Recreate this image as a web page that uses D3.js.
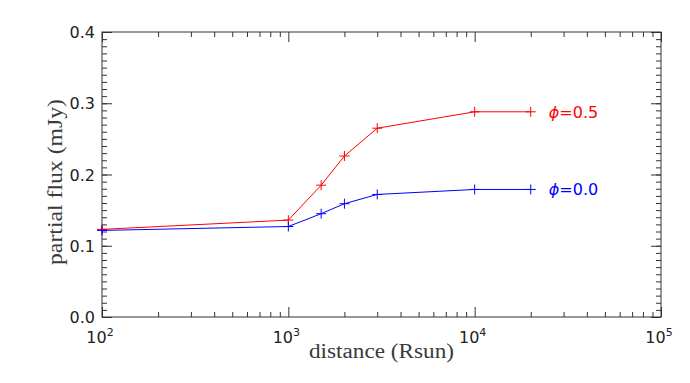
<!DOCTYPE html>
<html>
<head>
<meta charset="utf-8">
<script src="https://cdn.jsdelivr.net/npm/d3@7"></script>
<style>
  body { margin: 0; background: #fff; }
  svg { display: block; }
  .tick-label { font-family: 'DejaVu Sans', sans-serif; font-size: 16px; fill: #222; }
  .title { font-family: 'Liberation Serif', serif; font-size: 20px; fill: #3a3a3a; }
  .domain { display: none; }
  .axis line { stroke: #333; }
</style>
</head>
<body>
<script>
const w = 690;
const h = 383;
const plotLeft = 102;
const plotRight = 661;
const plotTop = 32;
const plotBottom = 317;

// distance (Rsun) and partial flux (mJy)
const distances = [100, 1000, 1500, 2000, 3000, 10000, 20000];
const fluxPhi05 = [0.123, 0.136, 0.185, 0.226, 0.265, 0.288, 0.288];
const fluxPhi00 = [0.1215, 0.127, 0.145, 0.159, 0.172, 0.179, 0.179];
const seriesNames = ['0.5', '0.0'];
const seriesColors = ['#ff0000', '#0000ff'];

const xMajor = [1e2, 1e3, 1e4, 1e5];
const yMajor = [0, 0.1, 0.2, 0.3, 0.4];

const xMinor = [];
for (let e = 2; e < 5; e++) {
  for (let m = 2; m <= 9; m++) xMinor.push(m * Math.pow(10, e));
}
const yMinor = d3.range(0, 41).map(i => i / 100);

const x = d3.scaleLog().domain([1e2, 1e5]).range([plotLeft, plotRight]);
const y = d3.scaleLinear().domain([0, 0.4]).range([plotBottom, plotTop]);

const svg = d3.select('body').append('svg').attr('width', w).attr('height', h);

// ticks, all pointing into the frame
const tickAxis = (axis, values, size, transform) => {
  svg.append('g')
    .attr('class', 'axis')
    .attr('transform', transform)
    .call(axis.tickValues(values).tickSize(size).tickFormat(''));
};

tickAxis(d3.axisBottom(x), xMajor, -10, `translate(0,${plotBottom})`);
tickAxis(d3.axisBottom(x), xMinor, -5, `translate(0,${plotBottom})`);
tickAxis(d3.axisTop(x), xMajor, -10, `translate(0,${plotTop})`);
tickAxis(d3.axisTop(x), xMinor, -5, `translate(0,${plotTop})`);
tickAxis(d3.axisLeft(y), yMajor, -10, `translate(${plotLeft},0)`);
tickAxis(d3.axisLeft(y), yMinor, -5, `translate(${plotLeft},0)`);
tickAxis(d3.axisRight(y), yMajor, -10, `translate(${plotRight},0)`);
tickAxis(d3.axisRight(y), yMinor, -5, `translate(${plotRight},0)`);

svg.append('rect')
  .attr('x', plotLeft).attr('y', plotTop)
  .attr('width', plotRight - plotLeft).attr('height', plotBottom - plotTop)
  .attr('fill', 'none').attr('stroke', '#333');

// tick labels
svg.selectAll('.ylab')
  .data(yMajor)
  .enter()
  .append('text')
  .attr('class', 'tick-label')
  .attr('x', plotLeft - 7)
  .attr('y', d => y(d) + 6)
  .attr('text-anchor', 'end')
  .text(d => d.toFixed(1));

const xl = svg.selectAll('.xlab')
  .data(xMajor)
  .enter()
  .append('text')
  .attr('class', 'tick-label')
  .attr('x', d => x(d) - 2)
  .attr('y', plotBottom + 26)
  .attr('text-anchor', 'middle');
xl.append('tspan').text('10');
xl.append('tspan')
  .attr('dy', -7)
  .style('font-size', '11px')
  .text(d => Math.round(Math.log10(d)));

// axis titles, stretched to the wide lettering of the original
svg.append('text')
  .attr('class', 'title')
  .attr('x', (plotLeft + plotRight) / 2)
  .attr('y', 358)
  .attr('text-anchor', 'middle')
  .attr('textLength', 145)
  .attr('lengthAdjust', 'spacingAndGlyphs')
  .text('distance (Rsun)');

svg.append('text')
  .attr('class', 'title')
  .attr('transform', `translate(62,182) rotate(-90)`)
  .attr('text-anchor', 'middle')
  .attr('textLength', 166)
  .attr('lengthAdjust', 'spacingAndGlyphs')
  .text('partial flux (mJy)');

// series
const line = d3.line().x(d => x(d[0])).y(d => y(d[1]));
[fluxPhi05, fluxPhi00].forEach((vals, i) => {
  const pts = distances.map((d, j) => [d, vals[j]]);
  const g = svg.append('g');
  g.append('path')
    .attr('d', line(pts))
    .attr('fill', 'none')
    .attr('stroke', seriesColors[i])
    .attr('stroke-width', 1);
  g.selectAll('path.mark')
    .data(pts)
    .enter()
    .append('path')
    .attr('class', 'mark')
    .attr('d', d => `M${x(d[0]) - 5},${y(d[1])}h10M${x(d[0])},${y(d[1]) - 5}v10`)
    .attr('stroke', seriesColors[i])
    .attr('stroke-width', 1);
  const last = pts[pts.length - 1];
  const t = svg.append('text')
    .attr('class', 'tick-label')
    .attr('x', x(last[0]) + 18)
    .attr('y', y(last[1]) + 6)
    .style('fill', seriesColors[i]);
  t.append('tspan').style('font-style', 'italic').text('ϕ');
  t.append('tspan').text('=' + seriesNames[i]);
});
</script>
</body>
</html>
